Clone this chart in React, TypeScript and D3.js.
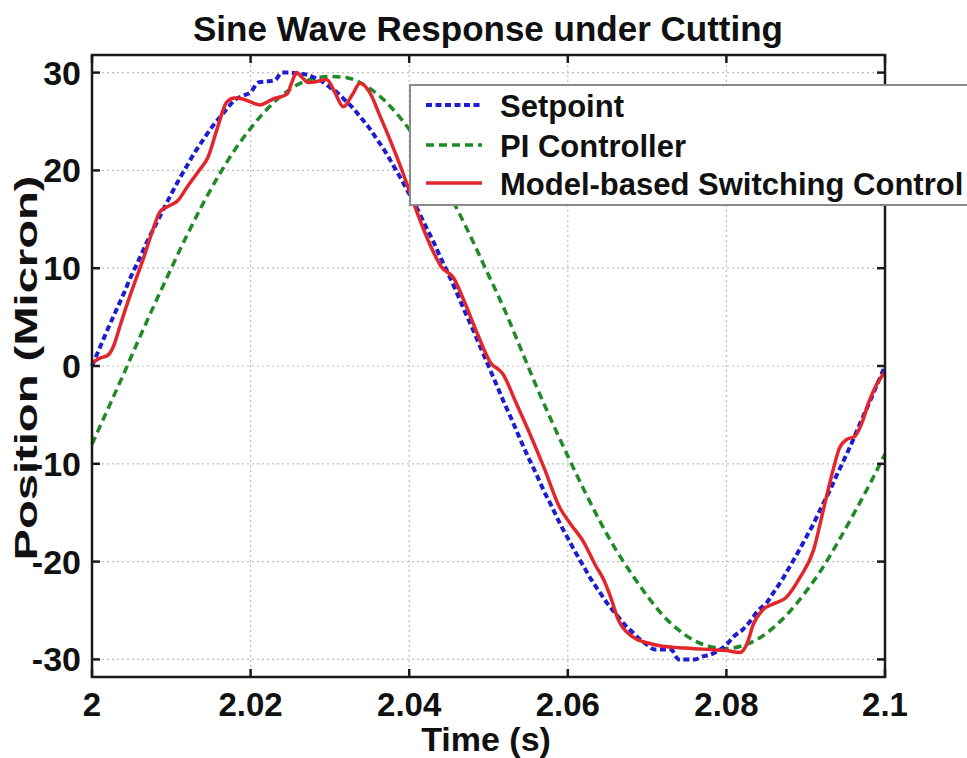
import {useEffect, useRef} from 'react';
import * as d3 from 'd3';

// setpoint sampled every 1 ms from 2.000 s to 2.100 s
const setpointStart = 2;
const setpointStep = 0.001;
const setpointValues = [
    0, 1.9, 3.8, 5.6, 7.4, 9.3, 11.0, 12.8, 14.4, 16.0, 17.6, 19.1, 20.5, 21.9, 23.1, 24.3, 25.3, 26.3, 27.2, 27.6,
    28.0, 29.0, 29.1, 29.2, 30.0, 30.0, 29.9, 29.8, 29.5, 29.1, 28.5, 27.9, 27.1, 26.3, 25.3, 24.3, 23.1, 21.9, 20.5,
    19.1, 17.6, 16.1, 14.4, 12.8, 11.0, 9.3, 7.5, 5.6, 3.8, 1.9, 0, -1.9, -3.8, -5.6, -7.5, -9.3, -11.0, -12.8, -14.4,
    -16.1, -17.6, -19.1, -20.5, -21.9, -23.1, -24.3, -25.3, -26.3, -27.1, -27.9, -28.5, -29.0, -29.0, -29.0, -30.0,
    -30.0, -30.0, -29.7, -29.5, -29.1, -28.5, -27.6, -27.0, -26.1, -25.0, -24.3, -23.1, -21.9, -20.5, -19.1, -17.6,
    -16.1, -14.4, -12.8, -11.0, -9.3, -7.5, -5.6, -3.8, -1.9, 0,
];

// PI controller sampled every 2 ms
const piStart = 2;
const piStep = 0.002;
const piValues = [
    -8.0, -4.4, -0.8, 2.9, 6.5, 10.0, 13.4, 16.6, 19.5, 22.1, 24.3, 26.2, 27.7, 28.8, 29.4, 29.6, 29.5, 28.9, 27.8,
    26.2, 24.2, 21.8, 19.0, 16.1, 12.8, 9.3, 5.8, 1.9, -2.0, -5.7, -9.2, -12.6, -15.8, -18.7, -21.2, -23.5, -25.5,
    -27.0, -28.1, -28.7, -28.9, -28.6, -27.9, -26.7, -25.1, -23.1, -20.8, -18.1, -15.2, -12.2, -9.0,
];

const mbscTime = [
    2.0, 2.001, 2.002, 2.0028, 2.0035, 2.0045, 2.0055, 2.0064, 2.0075, 2.0086, 2.0098, 2.0108, 2.012, 2.0135, 2.0146,
    2.0158, 2.017, 2.018, 2.019, 2.02, 2.0212, 2.0228, 2.0246, 2.0252, 2.0258, 2.0265, 2.0272, 2.0284, 2.0296, 2.0306,
    2.0317, 2.0328, 2.0338, 2.035, 2.0363, 2.0376, 2.039, 2.0405, 2.042, 2.0432, 2.044, 2.0456, 2.047, 2.0486, 2.0502,
    2.0518, 2.0535, 2.0552, 2.057, 2.059, 2.0603, 2.062, 2.0635, 2.0645, 2.0653, 2.0664, 2.0682, 2.07, 2.0716, 2.074,
    2.076, 2.078, 2.08, 2.0817, 2.0826, 2.0834, 2.0845, 2.086, 2.0875, 2.0893, 2.091, 2.0922, 2.0934, 2.0943, 2.0952,
    2.0962, 2.097, 2.098, 2.099, 2.1,
];
const mbscValues = [
    0.3, 0.8, 1.1, 2.2, 4.0, 6.5, 8.8, 10.8, 13.5, 15.8, 16.4, 16.9, 18.3, 20.0, 21.3, 24.3, 27.0, 27.4, 27.3, 27.0,
    26.7, 27.3, 27.8, 29.0, 30.0, 29.5, 29.0, 29.1, 29.3, 28.0, 26.5, 27.7, 28.9, 28.0, 25.6, 23.1, 20.2, 16.8, 13.6,
    11.4, 10.2, 9.0, 6.5, 3.3, 0.4, -0.8, -3.8, -6.9, -10.4, -14.5, -16.1, -18.0, -20.4, -21.8, -23.4, -26.0, -27.7,
    -28.3, -28.6, -28.8, -28.9, -29.0, -29.1, -29.3, -28.4, -26.4, -25.0, -24.3, -23.7, -21.6, -18.8, -14.8, -10.8,
    -8.3, -7.5, -7.2, -6.0, -3.6, -1.8, -0.6,
];

const xTicks = [2, 2.02, 2.04, 2.06, 2.08, 2.1];
const xTickLabels = ['2', '2.02', '2.04', '2.06', '2.08', '2.1'];
const yTicks = [-30, -20, -10, 0, 10, 20, 30];
const legendLabels = ['Setpoint', 'PI Controller', 'Model-based Switching Control'];

export default function App() {
    const ref = useRef<SVGSVGElement>(null);

    useEffect(() => {
        const width = 967;
        const height = 758;
        const left = 92;
        const right = 885;
        const top = 55;
        const bottom = 677;
        const font = '"Liberation Sans", Arial, sans-serif';

        const svg = d3.select(ref.current);
        svg.selectAll('*').remove();
        svg.attr('viewBox', `0 0 ${width} ${height}`);

        svg.append('rect').attr('width', width).attr('height', height).attr('fill', '#fff');

        const x = d3.scaleLinear().domain([2, 2.1]).range([left, right]);
        const y = d3.scaleLinear().domain([-31.8, 31.8]).range([bottom, top]);

        // grid
        const grid = svg.append('g').attr('stroke', '#bdbdbd').attr('stroke-width', 1.2).attr('stroke-dasharray', '2,3');
        grid.selectAll('.gx')
            .data(xTicks.slice(1, -1))
            .enter()
            .append('line')
            .attr('x1', (d) => x(d))
            .attr('x2', (d) => x(d))
            .attr('y1', top)
            .attr('y2', bottom);
        grid.selectAll('.gy')
            .data(yTicks)
            .enter()
            .append('line')
            .attr('x1', left)
            .attr('x2', right)
            .attr('y1', (d) => y(d))
            .attr('y2', (d) => y(d));

        const series = [
            {
                pts: piValues.map((v, i) => [piStart + i * piStep, v]),
                color: '#1f8a26',
                dash: '8,5',
                width: 3.5,
            },
            {
                pts: setpointValues.map((v, i) => [setpointStart + i * setpointStep, v]),
                color: '#1d1dd0',
                dash: '6,3.5',
                width: 4,
            },
            {
                pts: mbscTime.map((t, i) => [t, mbscValues[i]]),
                color: '#e3262c',
                dash: null,
                width: 3.5,
            },
        ];

        const line = d3
            .line<number[]>()
            .x((d) => x(d[0]))
            .y((d) => y(d[1]))
            .curve(d3.curveMonotoneX);

        series.forEach((s) => {
            svg.append('path')
                .attr('d', line(s.pts))
                .attr('fill', 'none')
                .attr('stroke', s.color)
                .attr('stroke-width', s.width)
                .attr('stroke-dasharray', s.dash)
                .attr('stroke-linejoin', 'round');
        });

        // axes box and inward ticks
        const axis = svg.append('g').attr('stroke', '#1a1a1a').attr('stroke-width', 2.5);
        axis.append('rect')
            .attr('x', left)
            .attr('y', top)
            .attr('width', right - left)
            .attr('height', bottom - top)
            .attr('fill', 'none');
        const tickLen = 8;
        xTicks.forEach((t) => {
            axis.append('line').attr('x1', x(t)).attr('x2', x(t)).attr('y1', bottom).attr('y2', bottom - tickLen);
            axis.append('line').attr('x1', x(t)).attr('x2', x(t)).attr('y1', top).attr('y2', top + tickLen);
        });
        yTicks.forEach((t) => {
            axis.append('line').attr('x1', left).attr('x2', left + tickLen).attr('y1', y(t)).attr('y2', y(t));
            axis.append('line').attr('x1', right).attr('x2', right - tickLen).attr('y1', y(t)).attr('y2', y(t));
        });

        // tick labels
        svg.selectAll('.xl')
            .data(xTicks)
            .enter()
            .append('text')
            .attr('x', (d) => x(d))
            .attr('y', bottom + 39)
            .attr('text-anchor', 'middle')
            .attr('font-family', font)
            .attr('font-weight', 'bold')
            .attr('font-size', 33)
            .attr('fill', '#111')
            .text((d, i) => xTickLabels[i]);

        svg.selectAll('.yl')
            .data(yTicks)
            .enter()
            .append('text')
            .attr('x', left - 11)
            .attr('y', (d) => y(d) + 12)
            .attr('text-anchor', 'end')
            .attr('font-family', font)
            .attr('font-weight', 'bold')
            .attr('font-size', 34)
            .attr('fill', '#111')
            .text((d) => d);

        // title and axis labels
        svg.append('text')
            .attr('x', 488)
            .attr('y', 41)
            .attr('text-anchor', 'middle')
            .attr('font-family', font)
            .attr('font-weight', 'bold')
            .attr('font-size', 35)
            .attr('textLength', 590)
            .attr('lengthAdjust', 'spacingAndGlyphs')
            .attr('fill', '#111')
            .text('Sine Wave Response under Cutting');

        svg.append('text')
            .attr('x', 486)
            .attr('y', 751)
            .attr('text-anchor', 'middle')
            .attr('font-family', font)
            .attr('font-weight', 'bold')
            .attr('font-size', 34)
            .attr('fill', '#111')
            .text('Time (s)');

        svg.append('text')
            .attr('transform', `translate(37, ${(top + bottom) / 2 + 2}) rotate(-90)`)
            .attr('text-anchor', 'middle')
            .attr('font-family', font)
            .attr('font-weight', 'bold')
            .attr('font-size', 32)
            .attr('textLength', 385)
            .attr('lengthAdjust', 'spacingAndGlyphs')
            .attr('fill', '#111')
            .text('Position (Micron)');

        // legend
        const lg = svg.append('g');
        lg.append('rect')
            .attr('x', 410)
            .attr('y', 85)
            .attr('width', 620)
            .attr('height', 120)
            .attr('fill', '#fff')
            .attr('stroke', '#8a8a8a')
            .attr('stroke-width', 2);
        const legendRows = [105, 145, 183];
        const legendStyle = [series[1], series[0], series[2]];
        legendLabels.forEach((label, i) => {
            lg.append('line')
                .attr('x1', 426)
                .attr('x2', 482)
                .attr('y1', legendRows[i])
                .attr('y2', legendRows[i])
                .attr('stroke', legendStyle[i].color)
                .attr('stroke-width', legendStyle[i].width)
                .attr('stroke-dasharray', legendStyle[i].dash);
            lg.append('text')
                .attr('x', 500)
                .attr('y', legendRows[i] + 12)
                .attr('font-family', font)
                .attr('font-weight', 'bold')
                .attr('font-size', 31)
                .attr('fill', '#111')
                .text(label);
        });
    }, []);

    return <svg ref={ref} width={967} height={758} style={{position: 'absolute', left: 0, top: 0}}></svg>;
}
